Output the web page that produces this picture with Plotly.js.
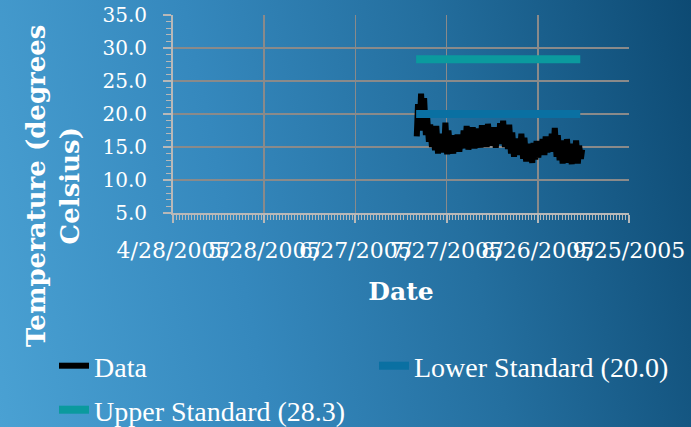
<!DOCTYPE html>
<html>
<head>
<meta charset="utf-8">
<script src="https://cdn.plot.ly/plotly-3.0.1.min.js"></script>
<style>
  html, body { margin: 0; padding: 0; }
  #chart {
    width: 691px; height: 427px;
    background: linear-gradient(78deg, #4aa1d3 0%, #3588bd 35%, #246f9f 65%, #0d4a73 100%);
  }
</style>
</head>
<body>
<div id="chart"></div>
<script>
// Axis ticks
const xTickDates = ['2005-04-28', '2005-05-28', '2005-06-27', '2005-07-27', '2005-08-26', '2005-09-25'];
const xTickText  = ['4/28/2005', '5/28/2005', '6/27/2005', '7/27/2005', '8/26/2005', '9/25/2005'];

// Measurement days (Jul 17 – Sep 9, 2005)
const dataDays = [
  '2005-07-17','2005-07-18','2005-07-19','2005-07-20','2005-07-21','2005-07-22','2005-07-23','2005-07-24',
  '2005-07-25','2005-07-26','2005-07-27','2005-07-28','2005-07-29','2005-07-30','2005-07-31',
  '2005-08-01','2005-08-02','2005-08-03','2005-08-04','2005-08-05','2005-08-06','2005-08-07','2005-08-08',
  '2005-08-09','2005-08-10','2005-08-11','2005-08-12','2005-08-13','2005-08-14','2005-08-15','2005-08-16',
  '2005-08-17','2005-08-18','2005-08-19','2005-08-20','2005-08-21','2005-08-22','2005-08-23','2005-08-24',
  '2005-08-25','2005-08-26','2005-08-27','2005-08-28','2005-08-29','2005-08-30','2005-08-31',
  '2005-09-01','2005-09-02','2005-09-03','2005-09-04','2005-09-05','2005-09-06','2005-09-07','2005-09-08','2005-09-09'
];
// Daily low (early morning) and high (afternoon) temperatures, degrees C
const dailyMin = [16.6,18.0,17.5,16.8,15.8,15.0,14.5,14.0,14.8,14.2,13.9,14.5,14.0,15.0,14.3,
                  14.8,15.2,14.6,15.5,14.8,15.3,14.9,15.6,15.0,15.8,15.2,14.9,15.5,15.8,15.0,14.7,
                  14.0,13.5,13.8,14.2,13.2,12.8,13.0,12.6,13.1,13.4,14.0,13.8,14.2,14.6,14.3,
                  13.5,13.0,12.5,13.2,12.6,12.4,13.0,12.5,13.2];
const dailyMax = [21.5,23.1,22.4,19.5,18.4,17.6,18.2,17.0,16.5,18.7,17.5,16.2,16.8,16.9,16.0,
                  17.5,18.2,17.0,18.0,16.5,17.8,18.3,17.2,18.5,17.5,18.0,16.8,18.6,19.0,17.9,18.4,
                  17.2,16.3,15.8,17.0,16.4,15.5,15.2,15.6,15.9,15.5,16.2,16.6,15.8,17.0,17.9,
                  16.8,16.0,15.4,16.2,14.8,15.5,16.0,15.2,14.6];

// Standards
const stdDates = ['2005-07-17', '2005-09-09'];
const lowerStd = [20.0, 20.0];
const upperStd = [28.3, 28.3];

// Interleave lows and highs into a time series
const dataX = [], dataY = [];
dataDays.forEach((d, i) => {
  dataX.push(d + ' 05:00'); dataY.push(dailyMin[i]);
  dataX.push(d + ' 15:00'); dataY.push(dailyMax[i]);
});

const traces = [
  { x: dataX, y: dataY, type: 'scatter', mode: 'lines', name: 'Data', legend: 'legend',
    line: { color: '#000000', width: 6 } },
  { x: stdDates, y: lowerStd, type: 'scatter', mode: 'lines', name: 'Lower Standard (20.0)', legend: 'legend2',
    line: { color: '#0a70a2', width: 8 } },
  { x: stdDates, y: upperStd, type: 'scatter', mode: 'lines', name: 'Upper Standard (28.3)', legend: 'legend3',
    line: { color: '#0b9a9e', width: 8 } }
];

const axisGray = '#b8b8b8';
const gridGray = '#8a8a8a';
const legendFont = { family: 'Liberation Serif', size: 28, color: '#ffffff' };
function legendAt(left, top) {
  return { orientation: 'v', xref: 'container', yref: 'container',
           x: left / 691, y: 1 - top / 427, xanchor: 'left', yanchor: 'top',
           font: legendFont, bgcolor: 'rgba(0,0,0,0)' };
}

const layout = {
  width: 691, height: 427,
  paper_bgcolor: 'rgba(0,0,0,0)', plot_bgcolor: 'rgba(0,0,0,0)',
  margin: { l: 173, r: 62, t: 15, b: 214, autoexpand: false },
  font: { family: 'DejaVu Serif', color: '#ffffff' },
  showlegend: true,
  xaxis: {
    type: 'date', range: ['2005-04-28', '2005-09-25 01:00'],
    tickmode: 'array', tickvals: xTickDates, ticktext: xTickText, tickangle: 0,
    tickfont: { size: 22, color: '#ffffff' },
    ticks: 'outside', ticklen: 8, tickwidth: 2, tickcolor: axisGray,
    ticklabelstandoff: 9,
    showline: true, linecolor: axisGray, linewidth: 2,
    showgrid: true, gridcolor: gridGray, gridwidth: 1.6, zeroline: false,
    minor: { dtick: 86400000, ticks: 'outside', ticklen: 5, tickwidth: 1, tickcolor: axisGray, showgrid: false },
    title: { text: '<b>Date</b>', font: { size: 25, color: '#ffffff' }, standoff: 20 },
    automargin: false, fixedrange: true
  },
  yaxis: {
    range: [5, 35], tick0: 5, dtick: 5, tickformat: '.1f',
    tickfont: { size: 20, color: '#ffffff' },
    ticks: 'outside', ticklen: 8, tickwidth: 2, tickcolor: axisGray,
    ticklabelstandoff: 12,
    showline: true, linecolor: axisGray, linewidth: 2,
    showgrid: true, gridcolor: gridGray, gridwidth: 1.6, zeroline: false,
    minor: { dtick: 1, ticks: 'outside', ticklen: 5, tickwidth: 1, tickcolor: axisGray, showgrid: false },
    automargin: false, fixedrange: true
  },
  annotations: [{
    text: '<b>Temperature (degrees<br>Celsius)</b>',
    xref: 'paper', yref: 'paper', x: (53 - 173) / 456, y: (213 - 186) / 198,
    xanchor: 'center', yanchor: 'middle', textangle: -90, showarrow: false,
    font: { family: 'DejaVu Serif', size: 26, color: '#ffffff' }
  }],
  legend: legendAt(54, 341),
  legend2: legendAt(374, 341),
  legend3: legendAt(54, 385)
};

Plotly.newPlot('chart', traces, layout, { displayModeBar: false, staticPlot: true });
</script>
</body>
</html>
